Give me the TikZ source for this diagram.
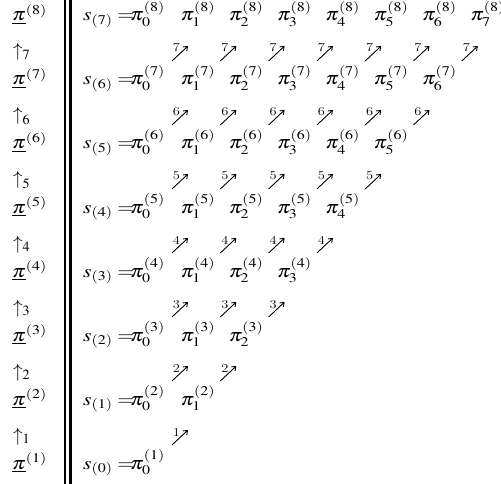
\documentclass[tikz,border=0pt]{standalone}
\usepackage{mathptmx}
\usepackage{graphicx}
\usepackage{tikz}
\usetikzlibrary{arrows.meta}

% glyphs in the reference are a little wider than tall
\newcommand\stretchx[1]{\scalebox{1.2}[1]{#1}}

\begin{document}
\begin{tikzpicture}[
  x=1pt, y=-1pt,
  font=\fontsize{18}{22}\selectfont,
  entry/.style={anchor=base west, inner sep=0pt},
  uplbl/.style={anchor=base west, inner sep=0pt, font=\fontsize{19}{19}\selectfont},
  steparr/.style={-{Straight Barb[length=3.5pt, width=5.5pt]}, line width=0.9pt},
  steplbl/.style={anchor=base, inner sep=0pt, font=\fontsize{12}{12}\selectfont},
  bar/.style={line width=2.6pt},
]
  \useasboundingbox (0,0) rectangle (501,484);

  % double rule between the two columns
  \draw[bar] (65,0) -- (65,484);
  \draw[bar] (70.3,0) -- (70.3,484);

  % rows s_(k) with entries pi_j^(k+1)
  \foreach \k in {0,...,7} {
    \pgfmathsetmacro\rowy{21+(7-\k)*64}
    \pgfmathtruncatemacro\up{\k+1}
    \node[entry] (left-\k) at (12,\rowy) {\stretchx{$\underline{\pi}^{(\up)}$}};
    \node[entry] (s-\k) at (83,\rowy) {\stretchx{$s_{(\k)} =$}};
    \foreach \j in {0,...,\k} {
      \pgfmathsetmacro\colx{\j==0 ? 130 : 132+48.3*\j}
      \node[entry] (p-\k-\j) at (\colx,\rowy) {\stretchx{$\pi_{\j}^{(\up)}$}};
    }
  }

  % steps between rows
  \foreach \m in {1,...,7} {
    \pgfmathsetmacro\midy{21+(7-\m)*64+32}
    \node[uplbl] (up-\m) at (13,\midy+4) {$\uparrow_{\m}$};
    \pgfmathtruncatemacro\last{\m-1}
    \foreach \j in {0,...,\last} {
      \pgfmathsetmacro\ax{172+48.3*\j}
      \coordinate (a-\m-\j) at (\ax,\midy+8);
      \coordinate (b-\m-\j) at (\ax+16,\midy-7);
      \draw[steparr] (a-\m-\j) -- (b-\m-\j);
      \node[steplbl] (n-\m-\j) at (\ax+4.5,\midy-1) {\stretchx{\m}};
    }
  }
\end{tikzpicture}
\end{document}
